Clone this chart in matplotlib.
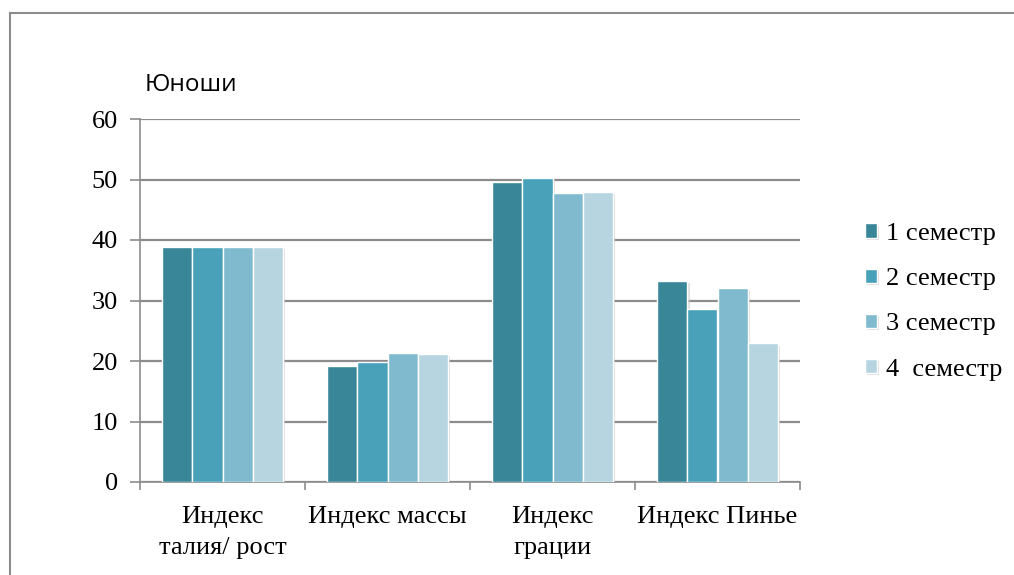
import matplotlib
matplotlib.use("Agg")
import matplotlib.pyplot as plt
import numpy as np
from matplotlib.lines import Line2D
import matplotlib.patheffects as pe

categories = ["Индекс\nталия/ рост", "Индекс массы", "Индекс\nграции", "Индекс Пинье"]
series_names = ["1 семестр", "2 семестр", "3 семестр", "4  семестр"]
sem1 = [38.8, 19.2, 49.6, 33.2]
sem2 = [38.8, 19.9, 50.3, 28.6]
sem3 = [38.8, 21.3, 47.8, 32.1]
sem4 = [38.8, 21.2, 48.0, 22.9]
series = [sem1, sem2, sem3, sem4]
colors = ["#3A8699", "#48A1B9", "#80BACE", "#B7D5E0"]
yticks = [0, 10, 20, 30, 40, 50, 60]
title = "Юноши"

serif = ["Liberation Serif", "DejaVu Serif"]
FS = 19

fig = plt.figure(figsize=(10.14, 5.75), dpi=100)
ax = fig.add_axes([140/1014, 93/575, 660/1014, 363/575])

x = np.arange(len(categories))
w = 0.182
handles = []
for i, (vals, c) in enumerate(zip(series, colors)):
    bars = ax.bar(x + (i - 1.5) * w, vals, width=w, color=c, edgecolor="white",
                  linewidth=1.0, zorder=3,
                  path_effects=[pe.SimplePatchShadow(offset=(1.5, -1.5), shadow_rgbFace="#c8c8c8", alpha=0.6), pe.Normal()])
    handles.append(bars)

ax.set_xlim(-0.5, len(categories) - 0.5)
ax.set_ylim(0, 60)
ax.set_yticks(yticks)
ax.set_yticklabels([str(t) for t in yticks], family=serif, fontsize=FS)
ax.yaxis.grid(True, color="#8c8c8c", linewidth=1.6, zorder=0)
ax.set_axisbelow(True)

ax.set_xticks(np.arange(-0.5, len(categories)), minor=False)
ax.set_xticklabels([])
ax.set_xticks(x, minor=True)
ax.set_xticklabels(categories, minor=True, family=serif, fontsize=FS, linespacing=1.55, va="top")
ax.tick_params(axis="x", which="minor", length=0, pad=17)
ax.tick_params(axis="x", which="major", length=6, width=1.2, color="#8c8c8c", direction="out")
ax.tick_params(axis="y", length=7, width=1.2, color="#8c8c8c", direction="out", pad=9)

for s in ["top", "right"]:
    ax.spines[s].set_visible(False)
for s in ["left", "bottom"]:
    ax.spines[s].set_color("#8c8c8c")
    ax.spines[s].set_linewidth(1.2)

fig.text(145/1014, 1 - 85/575, title, family=["Open Sans", "DejaVu Sans"], fontsize=17.5,
         ha="left", va="center")

leg = fig.legend([h[0] for h in handles], series_names, loc="upper left",
                 bbox_to_anchor=(857/1014, 1 - 215/575), frameon=False,
                 prop={"family": serif, "size": FS}, handlelength=0.45, handleheight=0.45,
                 handletextpad=0.35, labelspacing=0.88, borderaxespad=0, borderpad=0.3)

fig.add_artist(Line2D([10/1014, 10/1014], [0, 1 - 12.5/575], transform=fig.transFigure,
                      color="#8c8c8c", linewidth=1.5))
fig.add_artist(Line2D([10/1014, 1], [1 - 12.5/575, 1 - 12.5/575], transform=fig.transFigure,
                      color="#8c8c8c", linewidth=1.5))

fig.savefig("out.png", dpi=100)
